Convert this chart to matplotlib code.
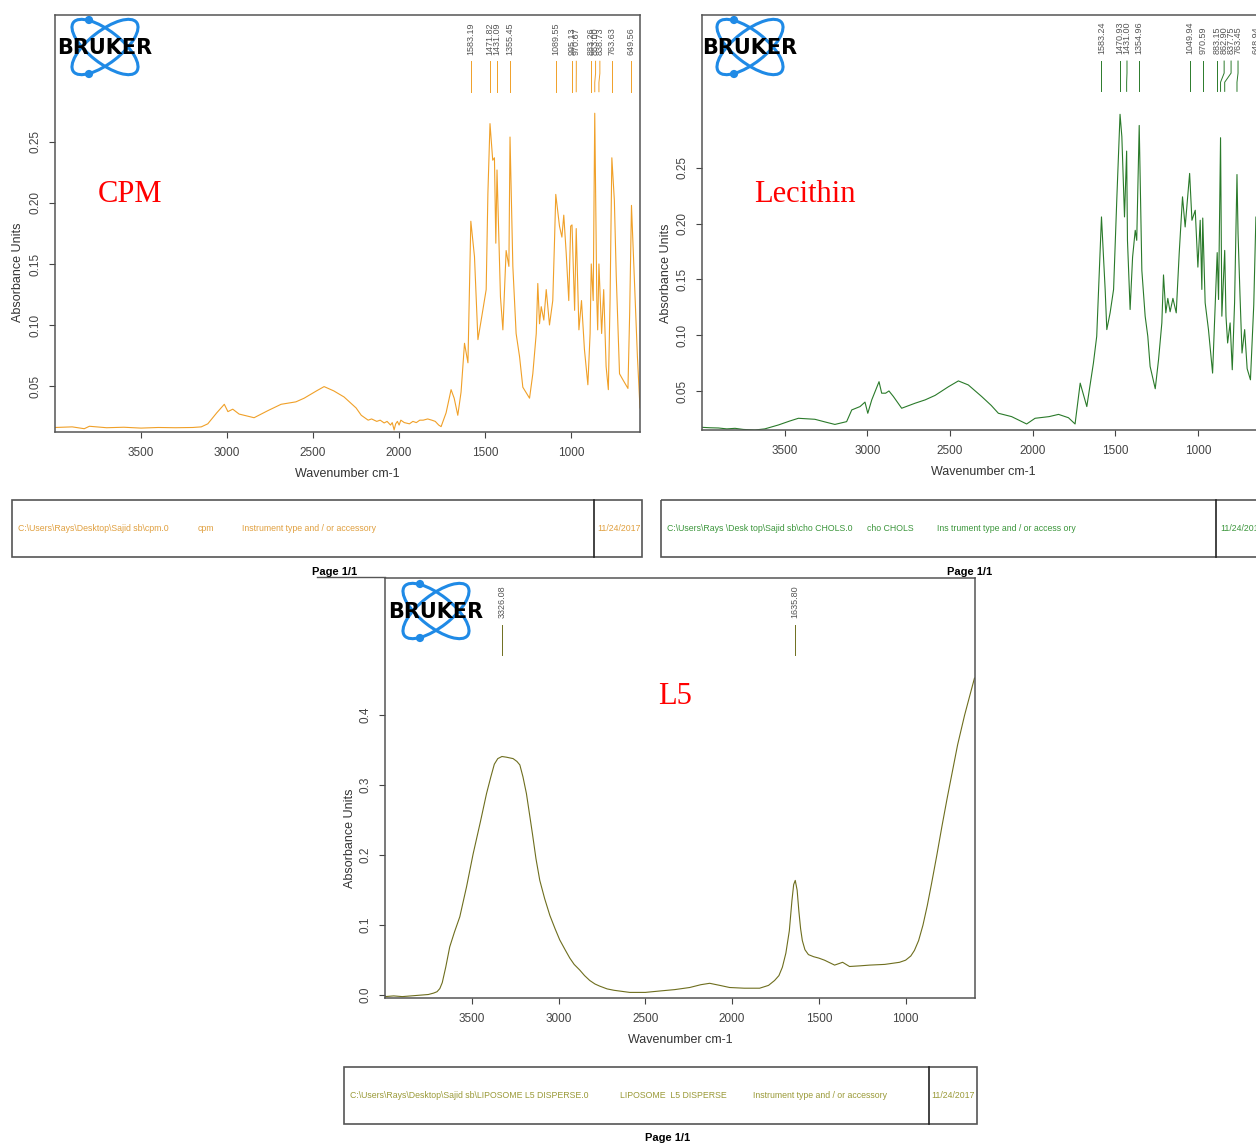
import matplotlib
matplotlib.use('Agg')
import matplotlib.pyplot as plt
from matplotlib.patches import Ellipse, Rectangle, Circle

plt.rcParams['font.family'] = ['Liberation Sans', 'DejaVu Sans']

W, H = 1256, 1145

# ---- CPM spectrum (wavenumber cm-1, absorbance) ----
cpm_wn = [4000, 3900, 3830, 3800, 3700, 3600, 3500, 3400, 3300, 3200, 3150, 3112,
          3060, 3016, 2995, 2967, 2930, 2843, 2760, 2686, 2600, 2552, 2480, 2436,
          2380, 2320, 2250, 2220, 2200, 2180, 2160, 2130, 2110, 2087, 2070, 2050,
          2040, 2029, 2020, 2010, 2000, 1990, 1970, 1940, 1920, 1900, 1880, 1860,
          1834, 1810, 1790, 1770, 1756, 1727, 1698, 1680, 1659, 1640, 1620, 1600,
          1583.19, 1562, 1542, 1523, 1494, 1484, 1471.82, 1456, 1446, 1438, 1431.09, 1411,
          1397, 1378, 1362, 1355.45, 1339, 1320, 1300, 1281, 1242, 1223, 1203, 1194,
          1184, 1174, 1159, 1145, 1126, 1107, 1097, 1089.55, 1068, 1054, 1043, 1029,
          1014, 1003, 995.13, 980, 970.67, 955, 940, 923, 903, 890, 883.26, 872,
          863.00, 851, 846, 838.73, 823, 811, 797, 784, 774, 763.63, 749, 738,
          719, 699, 670, 660, 649.56, 632, 615, 600]
cpm_abs = [0.016, 0.0165, 0.015, 0.017, 0.0158, 0.0162, 0.0155, 0.016, 0.0158, 0.016, 0.0165, 0.019,
           0.028, 0.035, 0.029, 0.031, 0.027, 0.024, 0.030, 0.035, 0.037, 0.040, 0.046, 0.0495,
           0.046, 0.041, 0.032, 0.026, 0.024, 0.022, 0.023, 0.021, 0.022, 0.0197, 0.021, 0.018,
           0.020, 0.014, 0.019, 0.021, 0.018, 0.022, 0.020, 0.019, 0.021, 0.020, 0.022, 0.022,
           0.023, 0.022, 0.021, 0.018, 0.0167, 0.028, 0.047, 0.040, 0.026, 0.045, 0.085, 0.069,
           0.185, 0.156, 0.088, 0.104, 0.129, 0.208, 0.265, 0.235, 0.237, 0.167, 0.227, 0.123,
           0.096, 0.161, 0.148, 0.254, 0.148, 0.093, 0.074, 0.049, 0.040, 0.060, 0.093, 0.134,
           0.101, 0.115, 0.104, 0.129, 0.100, 0.120, 0.168, 0.207, 0.181, 0.172, 0.190, 0.159,
           0.120, 0.181, 0.182, 0.112, 0.179, 0.096, 0.120, 0.080, 0.051, 0.093, 0.150, 0.120,
           0.2735, 0.120, 0.096, 0.150, 0.093, 0.129, 0.066, 0.047, 0.120, 0.237, 0.202, 0.140,
           0.060, 0.055, 0.048, 0.110, 0.198, 0.134, 0.074, 0.032]
cpm_peaks = [1583.19, 1471.82, 1431.09, 1355.45, 1089.55, 995.13, 970.67,
             883.26, 863.00, 838.73, 763.63, 649.56]

# ---- Lecithin spectrum ----
lec_wn = [4000, 3950, 3900, 3850, 3800, 3750, 3680, 3620, 3538, 3470, 3417, 3317,
          3250, 3196, 3125, 3094, 3044, 3014, 2997, 2973, 2929, 2913, 2889, 2869,
          2842, 2792, 2711, 2650, 2590, 2509, 2449, 2389, 2308, 2250, 2207, 2127,
          2036, 1985, 1900, 1843, 1783, 1743, 1712, 1672, 1632, 1612, 1583.24, 1571,
          1561, 1551, 1531, 1510, 1490, 1470.93, 1460, 1444, 1431.00, 1426, 1410, 1395,
          1379, 1370, 1354.96, 1339, 1319, 1303, 1289, 1258, 1238, 1218, 1208, 1194,
          1182, 1168, 1151, 1131, 1113, 1093, 1077, 1049.94, 1036, 1016, 1000, 986,
          976, 970.59, 956, 936, 911, 883.15, 875, 862.90, 855, 837.75, 830, 820,
          805, 792, 778, 763.45, 757, 745, 733, 717, 702, 682, 662, 648.94,
          636, 620, 600]
lec_abs = [0.0174, 0.017, 0.0168, 0.016, 0.0165, 0.0155, 0.015, 0.016, 0.0195, 0.023, 0.0255, 0.0246,
           0.022, 0.020, 0.0225, 0.033, 0.036, 0.040, 0.030, 0.042, 0.0583, 0.048, 0.048, 0.050,
           0.045, 0.0345, 0.039, 0.042, 0.046, 0.0538, 0.059, 0.0554, 0.045, 0.037, 0.030, 0.027,
           0.0204, 0.0255, 0.027, 0.029, 0.026, 0.0204, 0.057, 0.036, 0.075, 0.099, 0.206, 0.170,
           0.141, 0.105, 0.120, 0.141, 0.224, 0.298, 0.278, 0.206, 0.265, 0.185, 0.123, 0.170,
           0.194, 0.185, 0.288, 0.158, 0.117, 0.099, 0.072, 0.052, 0.078, 0.111, 0.154, 0.120,
           0.133, 0.121, 0.133, 0.120, 0.1735, 0.224, 0.197, 0.245, 0.203, 0.212, 0.161, 0.203,
           0.141, 0.205, 0.129, 0.105, 0.066, 0.174, 0.132, 0.277, 0.117, 0.176, 0.117, 0.093,
           0.111, 0.069, 0.129, 0.244, 0.191, 0.135, 0.084, 0.105, 0.070, 0.060, 0.127, 0.206,
           0.158, 0.090, 0.045]
lec_peaks = [1583.24, 1470.93, 1431.00, 1354.96, 1049.94, 970.59,
             883.15, 862.90, 837.75, 763.45, 648.94]

# ---- Liposome L5 spectrum ----
l5_wn = [4000, 3950, 3900, 3850, 3800, 3750, 3720, 3700, 3684, 3670, 3650, 3627,
         3600, 3569, 3530, 3492, 3450, 3415, 3390, 3370, 3350, 3326.08, 3300, 3262,
         3240, 3223, 3205, 3185, 3165, 3150, 3130, 3108, 3080, 3050, 3020, 2993,
         2960, 2935, 2910, 2878, 2850, 2820, 2790, 2763, 2720, 2680, 2590, 2500,
         2417, 2330, 2244, 2180, 2129, 2070, 2014, 1930, 1841, 1790, 1755, 1730,
         1710, 1690, 1670, 1655, 1645, 1635.80, 1625, 1615, 1605, 1595, 1580, 1560,
         1530, 1500, 1467, 1409, 1363, 1323, 1260, 1207, 1120, 1035, 1000, 970,
         949, 925, 900, 875, 850, 820, 790, 760, 730, 700, 660, 630,
         603]
l5_abs = [-0.002, -0.001, -0.002, -0.001, 0.000, 0.001, 0.003, 0.005, 0.0095, 0.018, 0.040, 0.069,
          0.090, 0.112, 0.155, 0.202, 0.248, 0.288, 0.312, 0.330, 0.338, 0.341, 0.340, 0.338,
          0.334, 0.329, 0.312, 0.288, 0.255, 0.230, 0.195, 0.164, 0.138, 0.114, 0.095, 0.079,
          0.064, 0.053, 0.044, 0.036, 0.028, 0.021, 0.016, 0.013, 0.009, 0.007, 0.004, 0.004,
          0.006, 0.008, 0.011, 0.015, 0.017, 0.014, 0.011, 0.010, 0.010, 0.014, 0.021, 0.028,
          0.040, 0.060, 0.092, 0.135, 0.158, 0.164, 0.150, 0.120, 0.095, 0.078, 0.065, 0.058,
          0.055, 0.053, 0.050, 0.043, 0.047, 0.041, 0.042, 0.043, 0.044, 0.047, 0.050, 0.056,
          0.064, 0.078, 0.100, 0.128, 0.160, 0.200, 0.242, 0.282, 0.320, 0.358, 0.400, 0.428,
          0.453]
l5_peaks = [3326.08, 1635.80]

x_ticks = [3500, 3000, 2500, 2000, 1500, 1000]

cpm_footer = ['C:\\Users\\Rays\\Desktop\\Sajid sb\\cpm.0', 'cpm',
              'Instrument type and / or accessory', '11/24/2017']
lec_footer = ['C:\\Users\\Rays \\Desk top\\Sajid sb\\cho CHOLS.0', 'cho CHOLS',
              'Ins trument type and / or access ory', '11/24/2017']
l5_footer = ['C:\\Users\\Rays\\Desktop\\Sajid sb\\LIPOSOME L5 DISPERSE.0', 'LIPOSOME  L5 DISPERSE',
             'Instrument type and / or accessory', '11/24/2017']

fig = plt.figure(figsize=(W / 100, H / 100), dpi=100)


def box(x0, y0, x1, y1):
    return [x0 / W, 1 - y1 / H, (x1 - x0) / W, (y1 - y0) / H]


def spectrum(rect, wn, ab, color, ylim, yticks, yfmt, peaks, gap, ylab_xy):
    ax = fig.add_axes(box(*rect))
    ax.plot(wn, ab, color=color, lw=0.8)
    ax.set_xlim(4000, 600)
    ax.set_ylim(*ylim)
    ax.set_xticks(x_ticks)
    ax.set_yticks(yticks)
    ax.set_yticklabels([yfmt % v for v in yticks], rotation=90, va='center')
    ax.tick_params(colors='#444', labelsize=8.5, length=4, width=0.8)
    ax.tick_params(axis='x', pad=7)
    ax.tick_params(axis='y', pad=6)
    for s in ax.spines.values():
        s.set_color('#555')
        s.set_linewidth(1.1)
    ax.set_xlabel('Wavenumber cm-1', fontsize=9, color='#333', labelpad=6)
    ax.set_ylabel('Absorbance Units', fontsize=9, color='#333')
    ax.yaxis.set_label_coords(*ylab_xy)

    # peak labels, pushed apart to the right when too close
    pos = []
    for p in peaks:
        pos.append(p if not pos else min(p, pos[-1] - gap))
    tr = ax.get_xaxis_transform()
    for p, q in zip(peaks, pos):
        ax.plot([q, q, p, p], [0.889, 0.86, 0.838, 0.816], color=color, lw=0.7,
                transform=tr, clip_on=False)
        ax.text(q, 0.905, '%.2f' % p, rotation=90, ha='center', va='bottom',
                fontsize=6.5, color='#555', transform=tr)
    return ax


spectrum((55, 15, 640, 432), cpm_wn, cpm_abs, '#F0A028', (0.0123, 0.354),
         [0.05, 0.10, 0.15, 0.20, 0.25], '%.2f', cpm_peaks, 25, (-0.053, 0.384))
spectrum((702, 15, 1264, 430), lec_wn, lec_abs, '#2A7A2A', (0.015, 0.387),
         [0.05, 0.10, 0.15, 0.20, 0.25], '%.2f', lec_peaks, 42, (-0.053, 0.378))
spectrum((385, 578, 975, 998), l5_wn, l5_abs, '#6E6E1E', (-0.004, 0.596),
         [0.0, 0.1, 0.2, 0.3, 0.4], '%.1f', l5_peaks, 25, (-0.049, 0.381))

# overlay in pixel coordinates for logos, titles and footers
ov = fig.add_axes([0, 0, 1, 1], zorder=10)
ov.set_xlim(0, W)
ov.set_ylim(H, 0)
ov.axis('off')

blue = '#1F8AE6'


def logo(cx, cy):
    for ang in (38, -38):
        ov.add_patch(Ellipse((cx, cy), 80, 32, angle=ang, fill=False, ec=blue, lw=2.2))
    ov.add_patch(Circle((cx - 16, cy - 27), 3.4, color=blue))
    ov.add_patch(Circle((cx - 16, cy + 27), 3.4, color=blue))
    ov.text(cx, cy + 1, 'BRUKER', ha='center', va='center', fontsize=15,
            fontweight='bold', family='DejaVu Sans', color='black')


logo(105, 47)
logo(750, 47)
logo(436, 611)

serif = ['Liberation Serif', 'DejaVu Serif']
ov.text(98, 195, 'CPM', color='#FF0000', family=serif, fontsize=22, va='center')
ov.text(754, 195, 'Lecithin', color='#FF0000', family=serif, fontsize=22, va='center')
ov.text(658, 697, 'L5', color='#FF0000', family=serif, fontsize=22, va='center')


def footer(x0, x1, xdiv, y0, y1, texts, xs, color, page_xy):
    ov.add_patch(Rectangle((x0, y0), x1 - x0, y1 - y0, fill=False, ec='#555', lw=1.2))
    ov.plot([xdiv, xdiv], [y0, y1], color='#222', lw=1.2)
    for x, s in zip(xs, texts):
        ov.text(x, (y0 + y1) / 2, s, ha='left', va='center', fontsize=6.3, color=color)
    ov.text(page_xy[0], page_xy[1], 'Page 1/1', ha='center', va='center',
            fontsize=8, fontweight='bold', color='black')


footer(12, 642, 594, 500, 557, cpm_footer, [18, 198, 242, 597], '#E0A040', (335, 572))
footer(661, 1270, 1216, 500, 557, lec_footer, [667, 867, 937, 1220], '#3C963C', (970, 572))
footer(344, 977, 929, 1067, 1124, l5_footer, [350, 620, 753, 931], '#9A9A38', (668, 1138))

ov.plot([317, 385], [577, 577], color='#555', lw=1.0)

fig.savefig('out.png', dpi=100)
